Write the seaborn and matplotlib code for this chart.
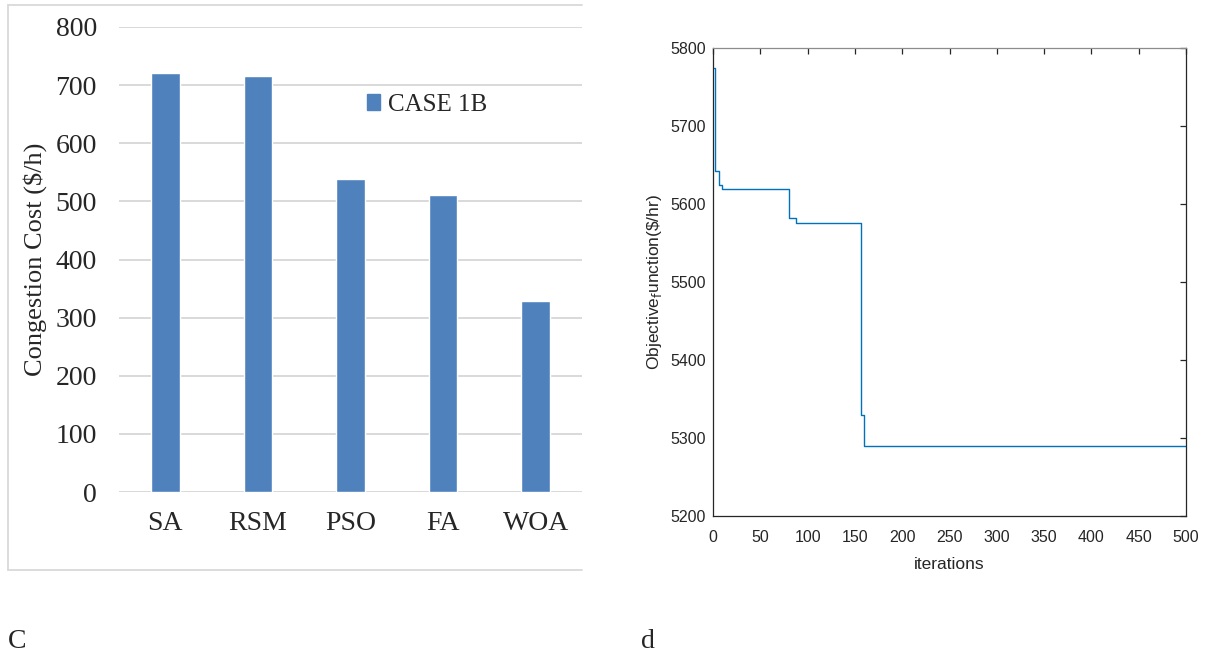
import numpy as np
import pandas as pd
import matplotlib
matplotlib.use('Agg')
import matplotlib.pyplot as plt
import seaborn as sns
from matplotlib.patches import Patch
from matplotlib.lines import Line2D

# ---- panel c: congestion cost per method ----
methods = ['SA', 'RSM', 'PSO', 'FA', 'WOA']
congestion_cost = [720, 715, 538, 511, 328]
cost_ticks = [0, 100, 200, 300, 400, 500, 600, 700, 800]

# ---- panel d: convergence curve (step change points) ----
iterations = [1, 2, 6, 9, 80, 88, 156, 160, 500]
objective = [5775, 5642, 5624, 5619, 5582, 5576, 5330, 5290, 5290]
iter_ticks = [0, 50, 100, 150, 200, 250, 300, 350, 400, 450, 500]
obj_ticks = [5200, 5300, 5400, 5500, 5600, 5700, 5800]

sns.set_theme(style='white')
W, H = 1211, 657
fig = plt.figure(figsize=(W / 100, H / 100), dpi=100)


def fx(px):
    return px / W


def fy(py):
    return 1 - py / H


serif = 'Liberation Serif'
sans = 'Liberation Sans'

# left panel ---------------------------------------------------------------
ax1 = fig.add_axes([fx(119), fy(492), fx(582 - 119), (492 - 27) / H])
df_cost = pd.DataFrame({'method': methods, 'cost': congestion_cost})
sns.barplot(data=df_cost, x='method', y='cost', color='#4f81bd',
            width=0.31, saturation=1, ax=ax1, zorder=3)
ax1.set_ylim(0, 800)
ax1.set_xlim(-0.5, 4.5)
ax1.set_yticks(cost_ticks)
ax1.yaxis.grid(True, color='#d9d9d9', linewidth=1.4, zorder=0)
ax1.set_axisbelow(True)
for s in ax1.spines.values():
    s.set_visible(False)
ax1.tick_params(axis='both', length=0, labelsize=20)
ax1.tick_params(axis='y', pad=16)
ax1.tick_params(axis='x', pad=14)
for lab in ax1.get_xticklabels() + ax1.get_yticklabels():
    lab.set_fontfamily(serif)
ax1.set_xlabel('')
ax1.set_ylabel('Congestion Cost ($/h)', fontsize=19, fontfamily=serif)
ax1.yaxis.set_label_coords(-0.155, 0.5)
ax1.legend(handles=[Patch(color='#4f81bd', label='CASE 1B')],
           loc='center left', bbox_to_anchor=((354 - 119) / 463, 1 - 78 / 465),
           frameon=False, borderpad=0, handlelength=0.55, handleheight=0.6,
           handletextpad=0.3, prop={'family': serif, 'size': 18})

# chart frame of the left panel (right side is cut off)
for xs, ys in [([8, 582], [5, 5]), ([8, 582], [570, 570]), ([8, 8], [5, 570])]:
    fig.add_artist(Line2D([fx(x) for x in xs], [fy(y) for y in ys],
                          color='#d9d9d9', linewidth=1.3))

# right panel --------------------------------------------------------------
ax2 = fig.add_axes([fx(713), fy(516), fx(1186 - 713), (516 - 48) / H])
df_conv = pd.DataFrame({'iteration': iterations, 'objective': objective})
sns.lineplot(data=df_conv, x='iteration', y='objective', ax=ax2,
             color='#0072BD', linewidth=1.0, drawstyle='steps-post')
ax2.set_xlim(0, 500)
ax2.set_ylim(5200, 5800)
ax2.set_xticks(iter_ticks)
ax2.set_yticks(obj_ticks)
for name, s in ax2.spines.items():
    s.set_visible(True)
    s.set_linewidth(0.9)
    s.set_color('#262626')
ax2.spines['top'].set_color('#8c8c8c')
ax2.tick_params(direction='in', length=4.5, width=0.9, colors='#262626',
                top=True, right=True, labelsize=11.5)
ax2.tick_params(axis='x', pad=10)
ax2.tick_params(axis='y', pad=5)
for lab in ax2.get_xticklabels() + ax2.get_yticklabels():
    lab.set_fontfamily(sans)
ax2.set_xlabel('iterations', fontsize=12.5, fontfamily=sans,
               color='#262626', labelpad=9)
ax2.set_ylabel(r'Objective$_{\mathrm{f}}$unction(\$/hr)', fontsize=12.5,
               fontfamily=sans, color='#262626')
ax2.yaxis.set_label_coords((664 - 713) / 473, 0.5)

# panel letters
fig.text(fx(17), fy(641), 'C', fontsize=20, fontfamily=serif, ha='center', va='center')
fig.text(fx(648), fy(641), 'd', fontsize=20, fontfamily=serif, ha='center', va='center')

fig.savefig('out.png', dpi=100)
